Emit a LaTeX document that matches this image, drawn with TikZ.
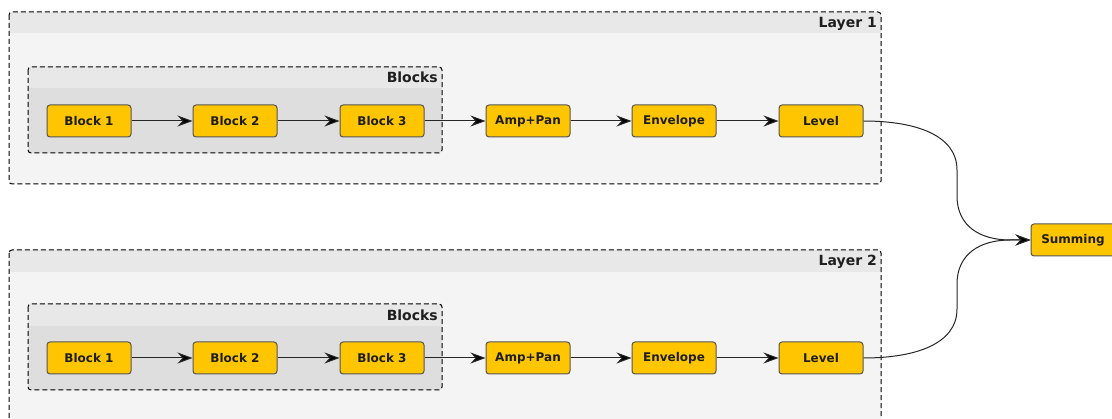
\documentclass[tikz,border=0pt]{standalone}
\usepackage{fontspec}
\setmainfont{DejaVu Sans}
\usetikzlibrary{arrows.meta}
\definecolor{blockyellow}{RGB}{255,198,0}
\definecolor{blockborder}{RGB}{85,85,85}
\definecolor{layerhead}{RGB}{232,232,232}
\definecolor{layerbody}{RGB}{244,244,244}
\definecolor{grouphead}{RGB}{232,232,232}
\definecolor{groupbody}{RGB}{222,222,222}
\definecolor{txt}{RGB}{30,30,30}
\tikzset{
  proc/.style={draw=blockborder, line width=1pt, fill=blockyellow, rounded corners=3pt,
    minimum width=84pt, minimum height=32pt, inner sep=0pt,
    font=\fontsize{12}{12}\selectfont\bfseries, text=txt},
  flow/.style={draw=black!85, line width=1pt, -{Stealth[length=15pt,width=11pt,inset=5pt,fill=black]}},
  frame/.style={draw=black, dash pattern=on 5pt off 3pt, line width=1pt, rounded corners=3pt},
  ttl/.style={anchor=base east, inner sep=0pt, font=\fontsize{14}{14}\selectfont\bfseries, text=txt}
}
\begin{document}
\begin{tikzpicture}[x=1pt,y=-1pt]
\useasboundingbox[fill=white] (0,0) rectangle (1112,419);
% ---------- Layer 1
\begin{scope}
\fill[layerbody, rounded corners=3pt] (9,12) rectangle (881,184);
\fill[layerhead, rounded corners=3pt] (9,12) rectangle (881,33);
\fill[layerhead] (9,22) rectangle (881,33);
\draw[frame] (9,12) rectangle (881,184);
\node[ttl] (t1) at (877,28) {Layer 1};
\fill[groupbody, rounded corners=3pt] (28,67) rectangle (442,153);
\fill[grouphead, rounded corners=3pt] (28,67) rectangle (442,88);
\fill[grouphead] (28,78) rectangle (442,88);
\draw[frame] (28,67) rectangle (442,153);
\node[ttl] (g1) at (438,83) {Blocks};
\end{scope}
% ---------- Layer 2
\begin{scope}
\fill[layerbody, rounded corners=3pt] (9,250) rectangle (881,440);
\fill[layerhead, rounded corners=3pt] (9,250) rectangle (881,272);
\fill[layerhead] (9,260) rectangle (881,272);
\draw[frame] (9,250) rectangle (881,440);
\node[ttl] (t2) at (877,266) {Layer 2};
\fill[groupbody, rounded corners=3pt] (28,304) rectangle (442,390);
\fill[grouphead, rounded corners=3pt] (28,304) rectangle (442,326);
\fill[grouphead] (28,315) rectangle (442,326);
\draw[frame] (28,304) rectangle (442,390);
\node[ttl] (g2) at (438,321) {Blocks};
\end{scope}
% ---------- nodes
\node[proc] (a1) at (89,121) {Block 1};
\node[proc] (b1) at (235,121) {Block 2};
\node[proc] (c1) at (382,121) {Block 3};
\node[proc] (d1) at (528,121) {Amp+Pan};
\node[proc] (e1) at (674,121) {Envelope};
\node[proc] (f1) at (821,121) {Level};
\node[proc] (a2) at (89,358) {Block 1};
\node[proc] (b2) at (235,358) {Block 2};
\node[proc] (c2) at (382,358) {Block 3};
\node[proc] (d2) at (528,358) {Amp+Pan};
\node[proc] (e2) at (674,358) {Envelope};
\node[proc] (f2) at (821,358) {Level};
\node[proc] (s) at (1073,240) {Summing};
% ---------- connectors
\draw[flow] (a1) -- (b1);
\draw[flow] (b1) -- (c1);
\draw[flow] (c1) -- (d1);
\draw[flow] (d1) -- (e1);
\draw[flow] (e1) -- (f1);
\draw[flow] (a2) -- (b2);
\draw[flow] (b2) -- (c2);
\draw[flow] (c2) -- (d2);
\draw[flow] (d2) -- (e2);
\draw[flow] (e2) -- (f2);
\draw[flow] (f1.east) .. controls +(52,0) and (957,135) .. (957,170) -- (957,196)
   .. controls (957,226) and (980,240) .. (1010,240) -- (s.west);
\draw[flow] (f2.east) .. controls +(52,0) and (957,344) .. (957,309) -- (957,284)
   .. controls (957,254) and (980,240) .. (1010,240) -- (s.west);
\end{tikzpicture}
\end{document}
